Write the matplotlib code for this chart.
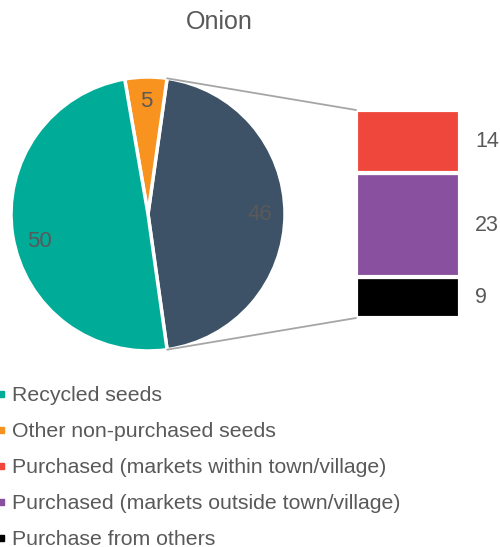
import matplotlib.pyplot as plt
from matplotlib.patches import ConnectionPatch
from matplotlib.lines import Line2D
import numpy as np

plt.rcParams['font.family'] = ['Liberation Sans', 'DejaVu Sans']

# данные
title = 'Onion'
pie_labels = ['Purchased', 'Other non-purchased seeds', 'Recycled seeds']
pie_values = [46, 5, 50]
pie_colors = ['#3D5266', '#F7931E', '#00AC98']

bar_labels = ['Purchase from others', 'Purchased (markets outside town/village)',
              'Purchased (markets within town/village)']
bar_values = [9, 23, 14]
bar_colors = ['#000000', '#88509F', '#F0473C']

legend_order = ['Recycled seeds', 'Other non-purchased seeds',
                'Purchased (markets within town/village)',
                'Purchased (markets outside town/village)',
                'Purchase from others']

txt = '#595959'
W, H = 500, 547
fig = plt.figure(figsize=(W / 100, H / 100), dpi=100)

# круговая диаграмма
ax1 = fig.add_axes([11 / W, (H - 351) / H, 274 / W, 274 / H])
start = -pie_values[0] / sum(pie_values) * 180
wedges, texts = ax1.pie(pie_values, colors=pie_colors, startangle=start,
                        labels=[str(v) for v in pie_values], labeldistance=0.82,
                        wedgeprops=dict(edgecolor='white', linewidth=2.5),
                        textprops=dict(color=txt, fontsize=16, ha='center', va='center'))
ax1.set_xlim(-1, 1)
ax1.set_ylim(-1, 1)
# подпись 50 в Excel стоит чуть ниже середины сектора
a = np.radians((wedges[2].theta1 + wedges[2].theta2) / 2 + 5)
texts[2].set_position((0.82 * np.cos(a), 0.82 * np.sin(a)))

# столбец
ax2 = fig.add_axes([356 / W, (H - 318) / H, 104 / W, 208 / H])
bottom = 0
for v, c in zip(bar_values, bar_colors):
    ax2.bar(0, v, width=1, bottom=bottom, color=c, edgecolor='white', linewidth=3)
    ax2.annotate(str(v), xy=(0.5, bottom + v / 2), xytext=(11, 0),
                 textcoords='offset points', va='center', ha='left',
                 color=txt, fontsize=15.5, annotation_clip=False)
    bottom += v
ax2.set_xlim(-0.5, 0.5)
ax2.set_ylim(0, sum(bar_values))
ax2.axis('off')

# соединительные линии
th1, th2 = wedges[0].theta1, wedges[0].theta2
for th, yb in [(th2, sum(bar_values)), (th1, 0)]:
    xa, ya = np.cos(np.radians(th)), np.sin(np.radians(th))
    con = ConnectionPatch(xyA=(xa, ya), coordsA=ax1.transData,
                          xyB=(-0.5, yb), coordsB=ax2.transData,
                          color='#A6A6A6', linewidth=1.3)
    fig.add_artist(con)

fig.text(219 / W, 1 - 22 / H, title, ha='center', va='center', fontsize=18, color=txt)

# легенда
col = dict(zip(pie_labels + bar_labels, pie_colors + bar_colors))
handles = [Line2D([], [], marker='s', linestyle='None', markersize=4,
                  color=col[l]) for l in legend_order]
fig.legend(handles, legend_order, loc='upper left', bbox_to_anchor=(-0.004, 1 - 386 / H),
           frameon=False, fontsize=15.3, labelcolor=txt, borderpad=0, borderaxespad=0,
           handlelength=0.3, handletextpad=0.35, labelspacing=0.8)

fig.savefig('out.png', dpi=100)
